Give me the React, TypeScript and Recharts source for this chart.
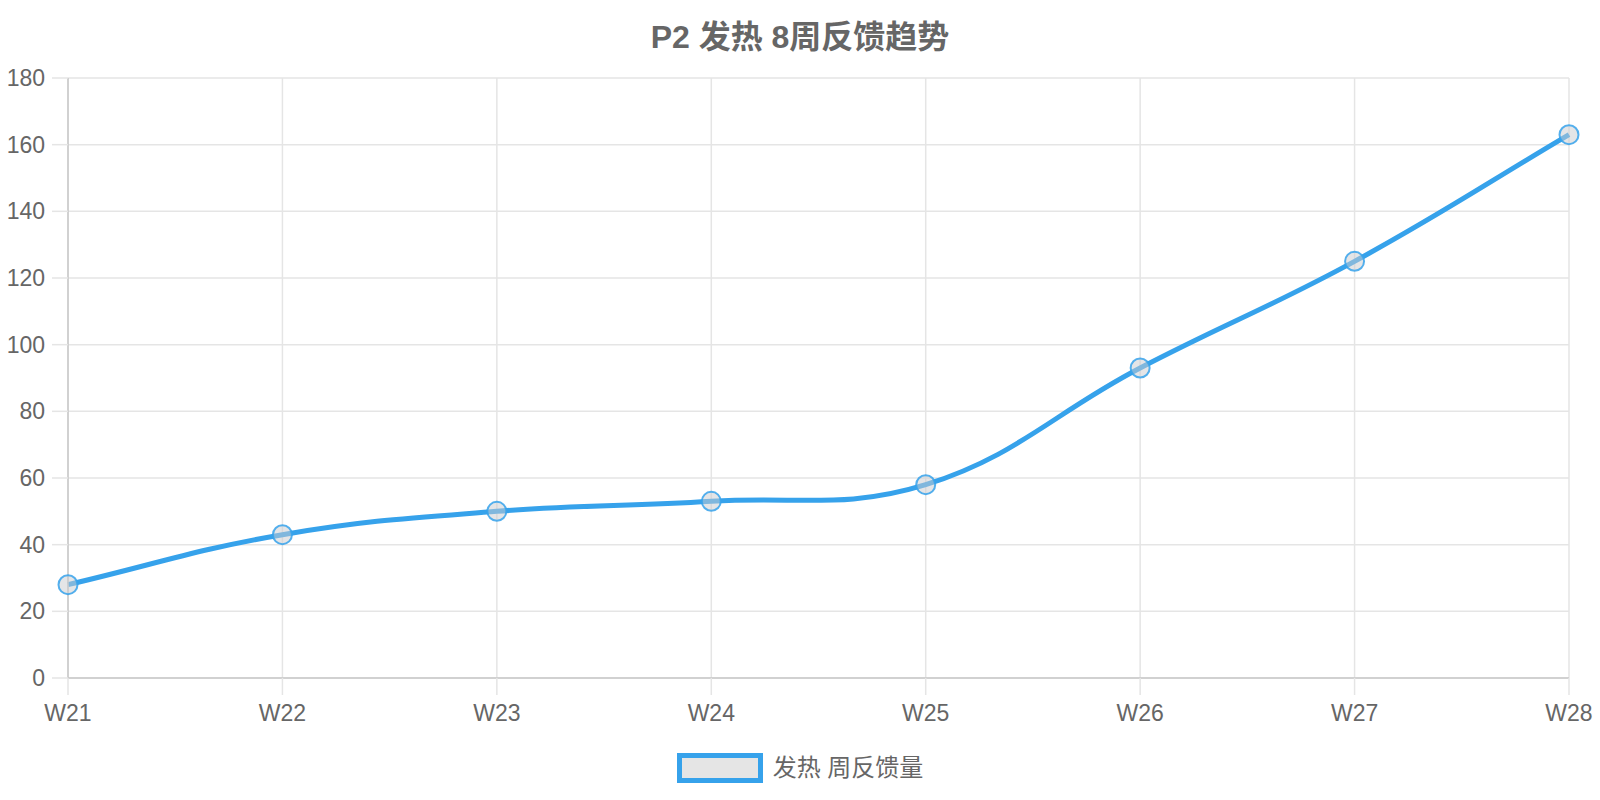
import { CartesianGrid, Line, LineChart, XAxis, YAxis } from "recharts";

const weeks = ["W21", "W22", "W23", "W24", "W25", "W26", "W27", "W28"];
const feedback = [28, 43, 50, 53, 58, 93, 125, 163];
const yTicks = [0, 20, 40, 60, 80, 100, 120, 140, 160, 180];

const title = "P2 发热 8周反馈趋势";
const seriesName = "发热 周反馈量";

const data = weeks.map((week, i) => ({ week, value: feedback[i] }));

const BLUE = "#36a2eb";
const TEXT = "#666";
const FONT = "'Helvetica Neue', Helvetica, Arial, 'Liberation Sans', 'Noto Sans CJK SC', sans-serif";

// chart.js style bezier spline (tension 0.4)
function splineCurve(context: any) {
  let pts: number[][] = [];
  const t = 0.4;
  return {
    areaStart() {},
    areaEnd() {},
    lineStart() {
      pts = [];
    },
    point(x: number, y: number) {
      pts.push([+x, +y]);
    },
    lineEnd() {
      const n = pts.length;
      if (!n) return;
      const cps = pts.map((p, i) => {
        const prev = pts[Math.max(i - 1, 0)];
        const next = pts[Math.min(i + 1, n - 1)];
        const d01 = Math.hypot(p[0] - prev[0], p[1] - prev[1]);
        const d12 = Math.hypot(next[0] - p[0], next[1] - p[1]);
        const fa = (t * d01) / (d01 + d12 || 1);
        const fb = (t * d12) / (d01 + d12 || 1);
        return {
          before: [p[0] - fa * (next[0] - prev[0]), p[1] - fa * (next[1] - prev[1])],
          after: [p[0] + fb * (next[0] - prev[0]), p[1] + fb * (next[1] - prev[1])],
        };
      });
      context.moveTo(pts[0][0], pts[0][1]);
      for (let i = 1; i < n; i++) {
        const a = cps[i - 1].after;
        const b = cps[i].before;
        context.bezierCurveTo(a[0], a[1], b[0], b[1], pts[i][0], pts[i][1]);
      }
    },
  };
}

const tickStyle = { fill: TEXT, fontSize: 23, fontFamily: FONT };

export default function App() {
  return (
    <div
      style={{
        position: "absolute",
        left: 0,
        top: 0,
        width: 1600,
        height: 800,
        background: "#fff",
        fontFamily: FONT,
      }}
    >
      <div
        style={{
          position: "absolute",
          left: 0,
          top: 18,
          width: 1600,
          textAlign: "center",
          fontSize: 32,
          fontWeight: "bold",
          color: TEXT,
          lineHeight: "38px",
        }}
      >
        {title}
      </div>

      <LineChart
        width={1600}
        height={800}
        data={data}
        margin={{ top: 78, right: 31, left: 0, bottom: 82 }}
      >
        <CartesianGrid stroke="#e5e5e5" strokeWidth={1.5} />
        <XAxis
          dataKey="week"
          height={40}
          tick={tickStyle}
          tickSize={17}
          tickMargin={10}
          tickLine={{ stroke: "#e5e5e5", strokeWidth: 1.5 }}
          axisLine={{ stroke: "#c8c8c8", strokeWidth: 1.5 }}
        />
        <YAxis
          width={68}
          domain={[0, 180]}
          ticks={yTicks}
          tick={tickStyle}
          tickSize={16}
          tickMargin={7}
          tickLine={{ stroke: "#e5e5e5", strokeWidth: 1.5 }}
          axisLine={{ stroke: "#c8c8c8", strokeWidth: 1.5 }}
        />
        <Line
          dataKey="value"
          name={seriesName}
          type={splineCurve as any}
          stroke={BLUE}
          strokeWidth={5}
          dot={{ r: 9.5, fill: "rgba(201,203,207,0.5)", stroke: BLUE, strokeWidth: 2, strokeOpacity: 0.85 }}
          activeDot={false}
          isAnimationActive={false}
        />
      </LineChart>

      <div
        style={{
          position: "absolute",
          left: 0,
          top: 753,
          width: 1600,
          display: "flex",
          justifyContent: "center",
          alignItems: "center",
          gap: 10,
        }}
      >
        <span
          style={{
            boxSizing: "border-box",
            width: 86,
            height: 30,
            border: `5px solid ${BLUE}`,
            background: "#e5e5e5",
          }}
        />
        <span style={{ fontSize: 24, color: TEXT, lineHeight: "30px" }}>{seriesName}</span>
      </div>
    </div>
  );
}
